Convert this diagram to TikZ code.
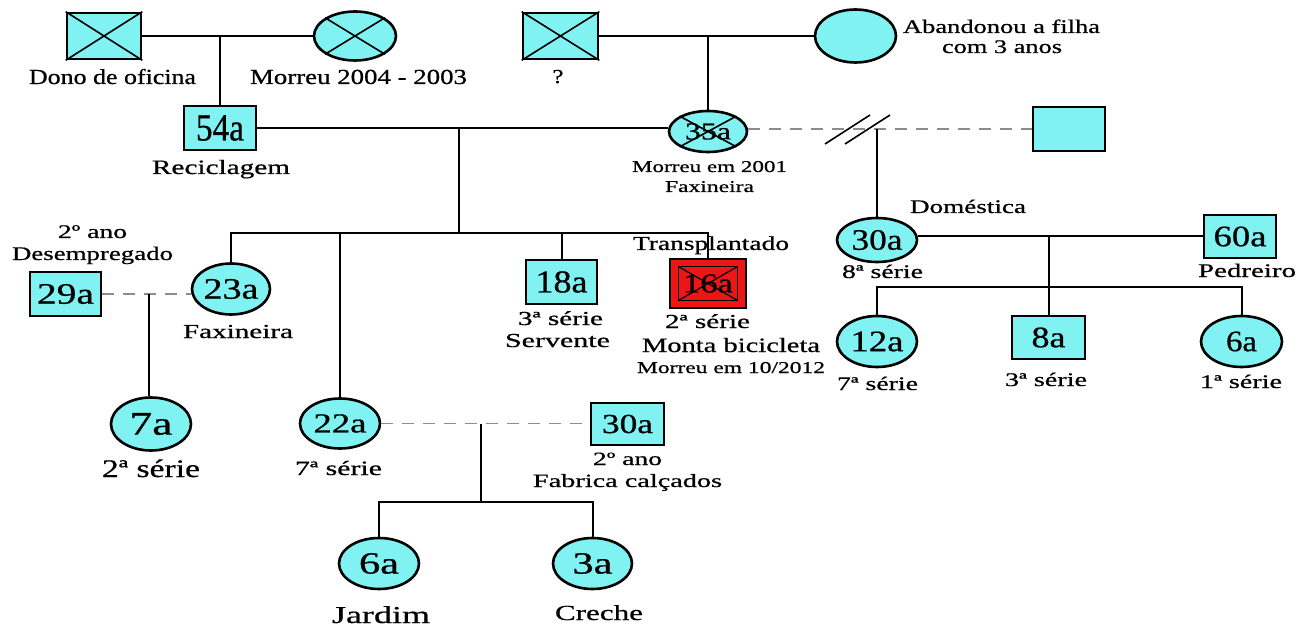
\documentclass[tikz,border=0pt]{standalone}
\usepackage{fontspec}
\setmainfont{Liberation Serif}[FakeBold=0.6]
\usepackage{graphicx}
\usetikzlibrary{shapes.geometric,calc}
\definecolor{pcyan}{RGB}{128,242,242}
\definecolor{pred}{RGB}{236,22,22}
\definecolor{lgray}{RGB}{140,140,140}
% text of a given width (pt) and font size, stretched horizontally only
\newcommand\wt[3]{\resizebox{#1pt}{\height}{\fontsize{\fpeval{#2*1.1}}{\fpeval{#2*1.1}}\selectfont #3}}
\begin{document}
\begin{tikzpicture}[x=1pt,y=-1pt,
  box/.style={rectangle, draw=black, line width=2.6pt, fill=pcyan, inner sep=0pt},
  ell/.style={ellipse, draw=black, line width=2.6pt, fill=pcyan, inner sep=0pt},
  wire/.style={line width=2pt, draw=black},
  loose/.style={line width=1.5pt, draw=lgray, dash pattern=on 12pt off 9pt},
  xmark/.style={line width=1.6pt, draw=black},
  lab/.style={anchor=base, inner sep=0pt}]
\path[use as bounding box, fill=white] (0,0) rectangle (1314,628);

% ---------- grandparents ----------
\node[box, minimum width=74, minimum height=46] (gfa) at (104,36) {};
\node[ell, minimum width=82, minimum height=49] (gmo) at (355,36) {};
\node[box, minimum width=75, minimum height=46] (gq) at (560.5,36) {};
\node[ell, minimum width=81, minimum height=53] (gab) at (855.5,36) {};
\draw[xmark] (gfa.north west) -- (gfa.south east) (gfa.north east) -- (gfa.south west);
\draw[xmark] (gmo.north west) -- (gmo.south east) (gmo.north east) -- (gmo.south west);
\draw[xmark] (gq.north west) -- (gq.south east) (gq.north east) -- (gq.south west);

\node[lab] (tgfa) at (112.5,84) {\wt{167}{19.5}{Dono de oficina}};
\node[lab] (tgmo) at (358.5,84) {\wt{217}{19.5}{Morreu 2004 - 2003}};
\node[lab] (tgq) at (558,83) {\wt{11}{18}{?}};
\node[lab] (tgab1) at (1001.5,33) {\wt{197}{17.5}{Abandonou a filha}};
\node[lab] (tgab2) at (1002,53) {\wt{120}{17.5}{com 3 anos}};

% ---------- parents ----------
\node[box, minimum width=72, minimum height=44] (p54) at (220,128) {\wt{48}{35}{54a}};
\node[ell, minimum width=78, minimum height=41] (p35) at (708,131.5) {\wt{46}{22}{35a}};
\draw[xmark] (p35.north west) -- (p35.south east) (p35.north east) -- (p35.south west);
\node[box, minimum width=72, minimum height=44] (pr) at (1069,129) {};

\node[lab] (tp54) at (221,174) {\wt{138}{18.5}{Reciclagem}};
\node[lab] (tp35a) at (709.5,172) {\wt{155}{15}{Morreu em 2001}};
\node[lab] (tp35b) at (709.5,192) {\wt{89}{15}{Faxineira}};

% ---------- children of 54a and 35a ----------
\node[ell, minimum width=78, minimum height=51] (p23) at (231,289) {\wt{55}{27}{23a}};
\node[box, minimum width=71, minimum height=44] (p29) at (65.5,294) {\wt{57}{27}{29a}};
\node[ell, minimum width=80, minimum height=53] (p7) at (151,424) {\wt{43}{30}{7a}};
\node[ell, minimum width=80, minimum height=50] (p22) at (340,423.5) {\wt{53}{25}{22a}};
\node[box, minimum width=71, minimum height=44] (p18) at (561.5,282) {\wt{52}{29}{18a}};
\node[box, minimum width=76, minimum height=49, fill=pred] (p16) at (708,283.5) {\wt{50}{25}{16a}};
\coordinate (i16a) at ($(p16.north west)+(10,9)$);
\coordinate (i16b) at ($(p16.south east)+(-10,-9)$);
\draw[line width=1.2pt] (i16a) rectangle (i16b);
\draw[xmark, line width=1.2pt] (i16a) -- (i16b) (i16a -| i16b) -- (i16b -| i16a);
\node[box, minimum width=73, minimum height=42] (p30b) at (627.5,424) {\wt{51}{25}{30a}};
\node[ell, minimum width=80, minimum height=51] (p6b) at (379,563.5) {\wt{40}{28}{6a}};
\node[ell, minimum width=79, minimum height=51] (p3) at (592.5,563.5) {\wt{40}{28}{3a}};

\node[lab] (tp29a) at (92.5,238) {\wt{69}{17.5}{2º ano}};
\node[lab] (tp29b) at (92.5,260) {\wt{161}{17.5}{Desempregado}};
\node[lab] (tp23) at (238,338) {\wt{110}{18}{Faxineira}};
\node[lab] (tp7) at (151,477) {\wt{98}{23}{2ª série}};
\node[lab] (tp22) at (338.5,475) {\wt{87}{18.5}{7ª série}};
\node[lab] (tp18a) at (560.5,325) {\wt{85}{18}{3ª série}};
\node[lab] (tp18b) at (557.5,347) {\wt{105}{18}{Servente}};
\node[lab] (tp16t) at (711,250) {\wt{156}{18}{Transplantado}};
\node[lab] (tp16a) at (707.5,328) {\wt{85}{18}{2ª série}};
\node[lab] (tp16b) at (731,352) {\wt{178}{18.5}{Monta bicicleta}};
\node[lab] (tp16c) at (731,373) {\wt{188}{15}{Morreu em 10/2012}};
\node[lab] (tp30a) at (627.5,465) {\wt{69}{17}{2º ano}};
\node[lab] (tp30b) at (627.5,487) {\wt{189}{17}{Fabrica calçados}};
\node[lab] (tp6b) at (381,623) {\wt{98}{22}{Jardim}};
\node[lab] (tp3) at (599,620) {\wt{88}{19.5}{Creche}};

% ---------- second family on the right ----------
\node[ell, minimum width=80, minimum height=44] (p30) at (877,240) {\wt{51}{27}{30a}};
\node[box, minimum width=72, minimum height=43] (p60) at (1240,236.5) {\wt{53}{27}{60a}};
\node[ell, minimum width=80, minimum height=51] (p12) at (877,341.5) {\wt{53}{27}{12a}};
\node[box, minimum width=73, minimum height=43] (p8) at (1048.5,337.5) {\wt{34}{27}{8a}};
\node[ell, minimum width=81, minimum height=51] (p6r) at (1241.5,341.5) {\wt{31}{27}{6a}};

\node[lab] (tp30) at (968,213) {\wt{116}{17.5}{Doméstica}};
\node[lab] (tp30s) at (882.5,278) {\wt{81}{17.5}{8ª série}};
\node[lab] (tp60) at (1247,277) {\wt{98}{17.5}{Pedreiro}};
\node[lab] (tp12) at (877.5,390) {\wt{81}{17.5}{7ª série}};
\node[lab] (tp8) at (1046,386) {\wt{82}{17.5}{3ª série}};
\node[lab] (tp6r) at (1241,388) {\wt{82}{17.5}{1ª série}};

% ---------- couple and descent lines ----------
\coordinate (j1) at (220,36);
\coordinate (j2) at (708,36);
\coordinate (j3) at (459,128);
\coordinate (s1) at (459,233);
\coordinate (j4) at (877,129);
\coordinate (j5) at (1049,236.5);
\coordinate (s2) at (1049,287);
\coordinate (j6) at (149,294);
\coordinate (j7) at (481,424);
\coordinate (s3) at (481,502);

\draw[wire] (gfa.east) -- (gmo.west);
\draw[wire] (j1) -- (p54.north);
\draw[wire] (gq.east) -- (gab.west);
\draw[wire] (j2) -- (p35.north);

\draw[wire] (p54.east) -- (p54.east -| p35.west);
\draw[wire] (j3) -- (s1);
\draw[wire] (p23.north) |- (p16.north |- s1) -- (p16.north);
\draw[wire] (p22.north) -- (p22.north |- s1);
\draw[wire] (p18.north) -- (p18.north |- s1);

\draw[loose] (p35.east |- pr.west) -- (pr.west);
\coordinate (sl1a) at (825,144);
\coordinate (sl1b) at (870,115);
\coordinate (sl2a) at (845,144);
\coordinate (sl2b) at (890,115);
\draw[wire, line width=1.6pt] (sl1a) -- (sl1b) (sl2a) -- (sl2b);
\draw[wire] (j4) -- (p30.north);

\draw[wire] (p30.east |- p60.west) -- (p60.west);
\draw[wire] (j5) -- (s2);
\draw[wire] (p12.north) |- (p6r.north |- s2) -- (p6r.north);
\draw[wire] (p8.north) -- (p8.north |- s2);

\draw[loose] (p29.east) -- (p29.east -| p23.west);
\draw[wire] (j6) -- (j6 |- p7.north);

\draw[loose] (p22.east) -- (p22.east -| p30b.west);
\draw[wire] (j7) -- (s3);
\draw[wire] (p6b.north) |- (p3.north |- s3) -- (p3.north);
\end{tikzpicture}
\end{document}
